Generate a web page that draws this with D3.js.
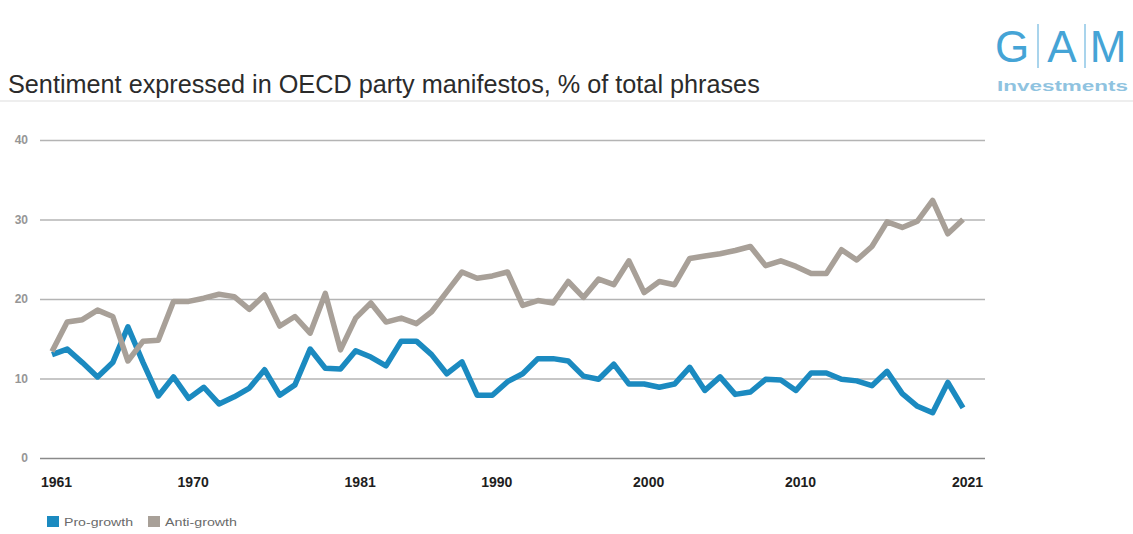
<!DOCTYPE html>
<html><head><meta charset="utf-8">
<script src="https://cdn.jsdelivr.net/npm/d3@7"></script>
<style>
body{margin:0;background:#fff;}
svg{display:block;font-family:"Liberation Sans",Arial,Helvetica,sans-serif;}
</style>
</head><body>
<svg id="chart" width="1133" height="534"></svg>
<script>
// ---- data ----
const years = d3.range(1961, 2022); // annual categories 1961..2021
const proGrowth = [13.0,13.7,12.0,10.2,12.0,16.5,12.0,7.8,10.2,7.5,
  8.9,6.8,7.7,8.8,11.1,7.9,9.2,13.7,11.3,11.2,
  13.5,12.7,11.6,14.7,14.7,13.0,10.6,12.1,7.9,7.9,
  9.6,10.6,12.5,12.5,12.2,10.3,9.9,11.8,9.3,9.3,
  8.9,9.3,11.4,8.5,10.2,8.0,8.3,9.9,9.8,8.5,
  10.7,10.7,9.9,9.7,9.1,10.9,8.1,6.5,5.7,9.5,6.3];
const antiGrowth = [13.4,17.1,17.4,18.6,17.8,12.2,14.7,14.8,19.7,19.7,
  20.1,20.6,20.3,18.7,20.5,16.6,17.8,15.7,20.7,13.6,
  17.6,19.5,17.1,17.6,16.9,18.4,20.9,23.4,22.6,22.9,
  23.4,19.2,19.8,19.5,22.2,20.2,22.5,21.8,24.8,20.8,
  22.2,21.8,25.1,25.4,25.7,26.1,26.6,24.2,24.8,24.1,
  23.2,23.2,26.2,24.9,26.6,29.7,29.0,29.8,32.4,28.2,30.0];
const yTickValues = [0, 10, 20, 30, 40];
const xTickYears = [1961, 1970, 1981, 1990, 2000, 2010, 2021];
const seriesNames = ["Pro-growth", "Anti-growth"];
const seriesColors = ["#1b8ac0", "#a8a098"];
const titleText = "Sentiment expressed in OECD party manifestos, % of total phrases";

// ---- layout ----
const svg = d3.select("#chart");
const gridLeft = 40, gridRight = 985;
const x = d3.scaleLinear().domain([years[0], years[years.length - 1]]).range([52, 963]);
const y = d3.scaleLinear().domain([0, 40]).range([458, 140]);

// title
const title = svg.append("text").attr("x", 8).attr("y", 93)
  .attr("fill", "#2b2b2b").style("font-size", "20px").text(titleText);
const tw = title.node().getComputedTextLength();
title.style("font-size", (20 * 752 / tw).toFixed(2) + "px");

// separator line under title
svg.append("line").attr("x1", 0).attr("x2", 1133).attr("y1", 101).attr("y2", 101)
  .attr("stroke", "#e8e8e8").attr("stroke-width", 1.5);

// logo
const logo = svg.append("g");
const logoBlue = "#45a4d6";
[["G", 1012], ["A", 1062], ["M", 1108]].forEach(([ch, cx]) => {
  logo.append("text").attr("x", cx).attr("y", 62).attr("text-anchor", "middle")
    .attr("fill", logoBlue).style("font-size", "44px").style("font-weight", "300").text(ch);
});
[1038, 1085].forEach(lx => {
  logo.append("line").attr("x1", lx).attr("x2", lx).attr("y1", 24).attr("y2", 68)
    .attr("stroke", "#8cc6e6").attr("stroke-width", 1.5);
});
logo.append("text").attr("x", 997).attr("y", 91).attr("textLength", 131)
  .attr("lengthAdjust", "spacingAndGlyphs")
  .attr("fill", "#8fc3e0").style("font-size", "15px").style("font-weight", "bold").text("Investments");

// y axis with gridlines
const yAxis = svg.append("g").attr("transform", `translate(${gridLeft},0)`)
  .call(d3.axisLeft(y).tickValues(yTickValues).tickSize(-(gridRight - gridLeft)).tickPadding(12));
yAxis.select(".domain").remove();
yAxis.selectAll(".tick line").attr("stroke", d => d === 0 ? "#8a8a8a" : "#b4b4b4").attr("stroke-width", 1.5);
yAxis.selectAll(".tick text").attr("fill", "#969696").style("font-size", "12px").style("font-weight", "bold");

// x axis labels
const xAxis = svg.append("g").attr("transform", `translate(4,${y(0)})`)
  .call(d3.axisBottom(x).tickValues(xTickYears).tickFormat(d3.format("d")).tickSize(0).tickPadding(19));
xAxis.select(".domain").remove();
xAxis.selectAll(".tick text").attr("fill", "#1e1e1e").style("font-size", "14px").style("font-weight", "bold");

// lines
const series = [proGrowth, antiGrowth];
const line = d3.line().x((d, i) => x(years[i])).y(d => y(d));
series.forEach((vals, k) => {
  svg.append("path").datum(vals).attr("d", line).attr("fill", "none")
    .attr("stroke", seriesColors[k]).attr("stroke-width", 5.5)
    .attr("stroke-linejoin", "round").attr("stroke-linecap", "butt");
});

// legend
const legend = svg.append("g");
const legendX = [47, 148];
const legendTextW = [69, 72];
seriesNames.forEach((name, k) => {
  legend.append("rect").attr("x", legendX[k]).attr("y", 516).attr("width", 12).attr("height", 11)
    .attr("fill", seriesColors[k]);
  legend.append("text").attr("x", legendX[k] + 17).attr("y", 526).attr("fill", "#6a6a6a")
    .attr("textLength", legendTextW[k]).attr("lengthAdjust", "spacingAndGlyphs")
    .style("font-size", "11px").text(name);
});
</script>
</body></html>
